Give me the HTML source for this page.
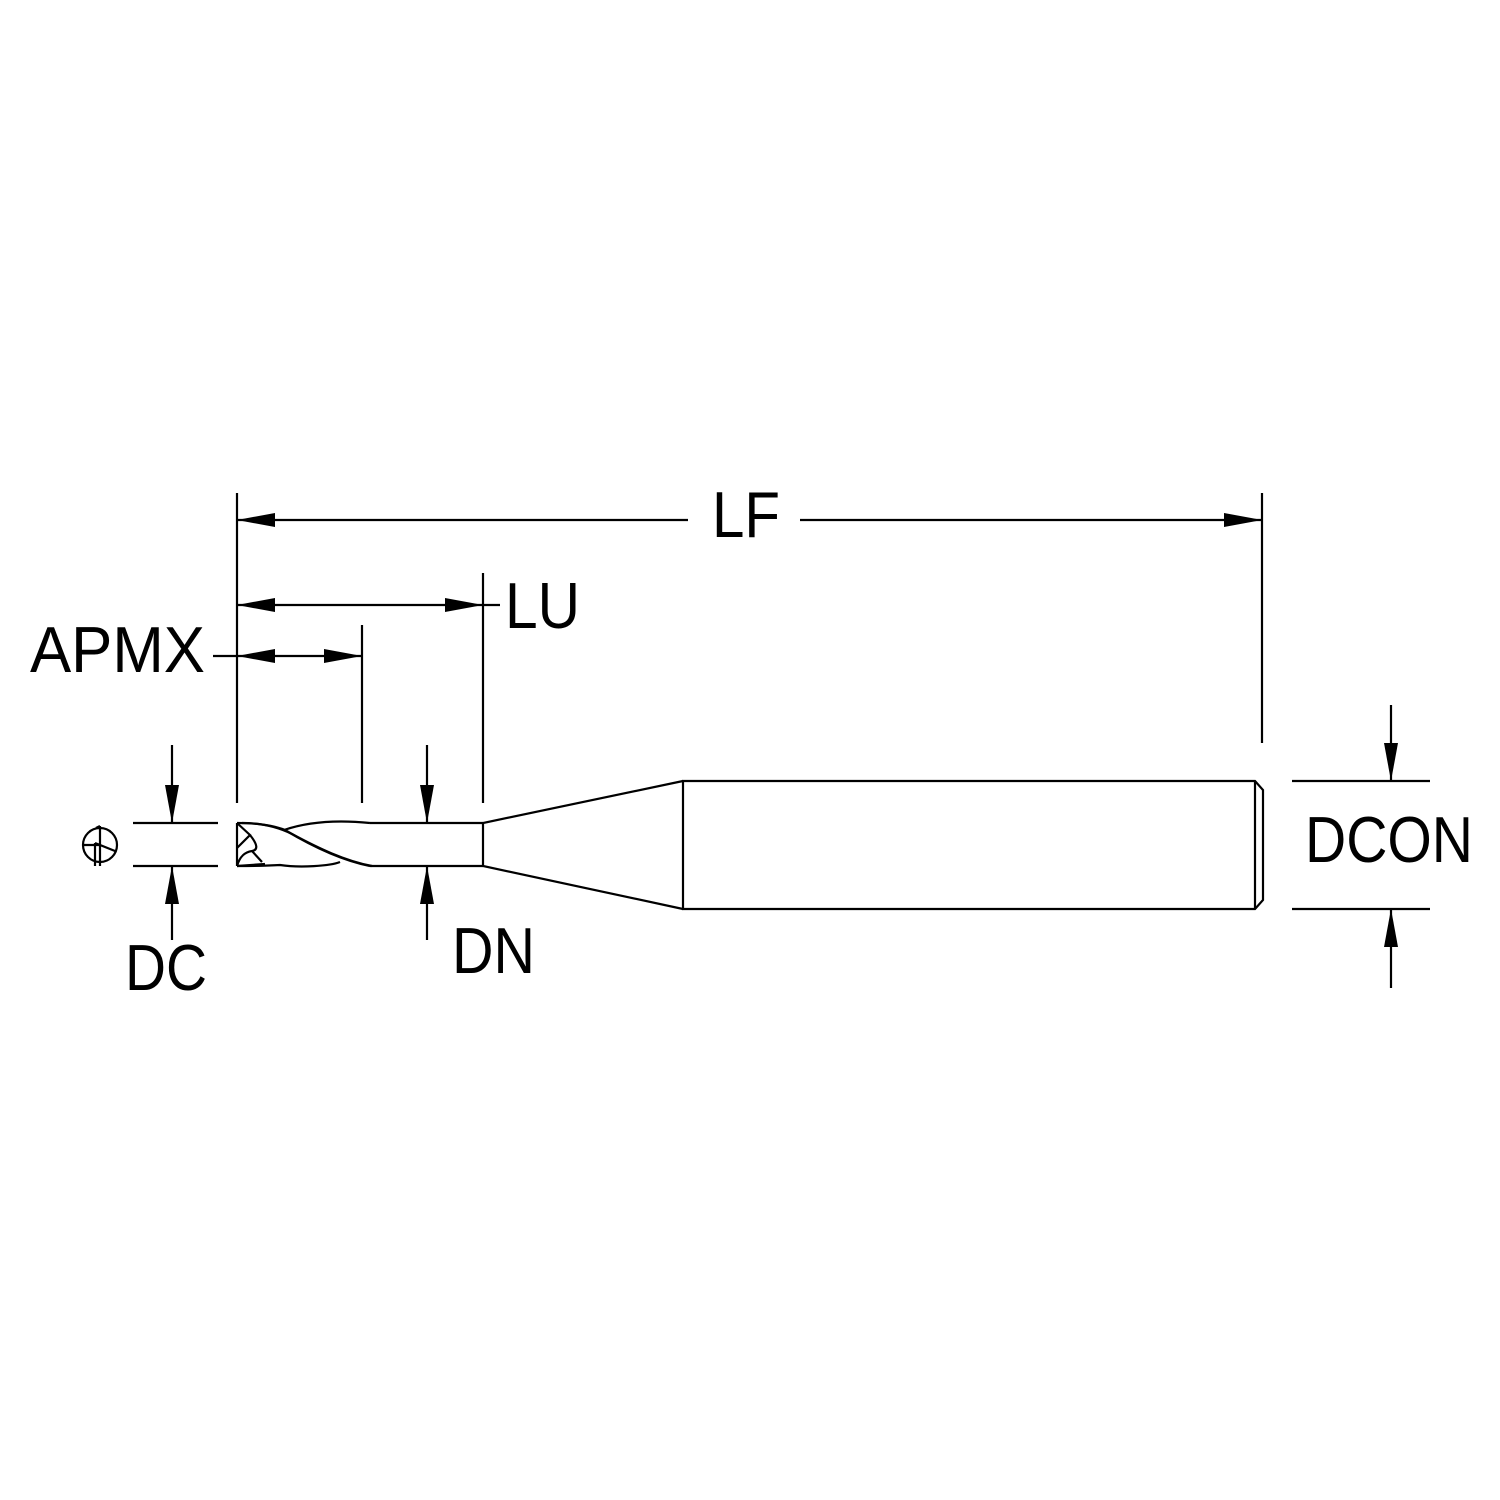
<!DOCTYPE html>
<html><head><meta charset="utf-8"><style>html,body{margin:0;padding:0;background:#fff}svg{display:block}</style></head>
<body>
<svg width="1500" height="1500" viewBox="0 0 1500 1500" xmlns="http://www.w3.org/2000/svg">
<rect width="1500" height="1500" fill="#fff"/>
<g stroke="#000" stroke-width="2.2" fill="none">
<!-- extension lines -->
<line x1="237" y1="493" x2="237" y2="803"/>
<line x1="1262" y1="493" x2="1262" y2="743"/>
<line x1="483" y1="573" x2="483" y2="803"/>
<line x1="362" y1="625" x2="362" y2="803"/>
<!-- LF -->
<line x1="237" y1="520" x2="688" y2="520"/>
<line x1="800" y1="520" x2="1262" y2="520"/>
<!-- LU -->
<line x1="237" y1="605" x2="500" y2="605"/>
<!-- APMX -->
<line x1="213" y1="656" x2="362" y2="656"/>
<!-- DC -->
<line x1="133" y1="823" x2="218" y2="823"/>
<line x1="133" y1="866" x2="218" y2="866"/>
<line x1="172" y1="745" x2="172" y2="823"/>
<line x1="172" y1="866" x2="172" y2="940"/>
<!-- DN -->
<line x1="427" y1="745" x2="427" y2="823"/>
<line x1="427" y1="866" x2="427" y2="940"/>
<!-- DCON -->
<line x1="1292" y1="781" x2="1430" y2="781"/>
<line x1="1292" y1="909" x2="1430" y2="909"/>
<line x1="1391" y1="705" x2="1391" y2="781"/>
<line x1="1391" y1="909" x2="1391" y2="988"/>
<!-- tool body -->
<path d="M683,781 L1255,781 L1263,790 L1263,900 L1255,909 L683,909 Z"/>
<line x1="1255" y1="781" x2="1255" y2="909"/>
<path d="M683,781 L483,823 L483,866 L683,909"/>
<line x1="370" y1="823" x2="483" y2="823"/>
<line x1="370" y1="866" x2="483" y2="866"/>
<!-- cutter -->
<path d="M237,823 L237,866"/>
<path d="M237,823 C260,823 275,826 285,830 C310,845 340,860 370,866"/>
<path d="M242,823 C265,823 280,828 292,834 C318,848 345,861 372,866"/>
<path d="M284,830 C310,821 340,820 370,823"/>
<path d="M237,866 C250,866 265,866 280,865 C300,868 330,866 340,862"/>
<path d="M237,823 L250,835 L237,848 M250,835 C258,845 258,850 252,851 C245,852 240,856 237,866 M237,866 L265,864 M252,851 L262,862"/>
<!-- symbol -->
<circle cx="100" cy="845" r="17"/>
<path d="M100,826 L100,866 M83,845 L100,845 L115,851 M100,845 L95,843 M95,843 L95,866 M96,828 L100,826"/>
</g>
<g fill="#000">
<path d="M237,520 l38,-7 v14 z"/>
<path d="M1262,520 l-38,-7 v14 z"/>
<path d="M237,605 l38,-7 v14 z"/>
<path d="M483,605 l-38,-7 v14 z"/>
<path d="M237,656 l38,-7 v14 z"/>
<path d="M362,656 l-38,-7 v14 z"/>
<path d="M172,823 l-7,-38 h14 z"/>
<path d="M172,866 l-7,38 h14 z"/>
<path d="M427,823 l-7,-38 h14 z"/>
<path d="M427,866 l-7,38 h14 z"/>
<path d="M1391,781 l-7,-38 h14 z"/>
<path d="M1391,909 l-7,38 h14 z"/>
</g>
<g font-family="Liberation Sans, sans-serif" font-size="65" fill="#000">
<text x="712" y="537" textLength="68" lengthAdjust="spacingAndGlyphs">LF</text>
<text x="505" y="628" textLength="75" lengthAdjust="spacingAndGlyphs">LU</text>
<text x="30" y="672" textLength="175" lengthAdjust="spacingAndGlyphs">APMX</text>
<text x="125" y="990" textLength="82" lengthAdjust="spacingAndGlyphs">DC</text>
<text x="452" y="973" textLength="83" lengthAdjust="spacingAndGlyphs">DN</text>
<text x="1305" y="862" textLength="168" lengthAdjust="spacingAndGlyphs">DCON</text>
</g>
</svg>
</body></html>
